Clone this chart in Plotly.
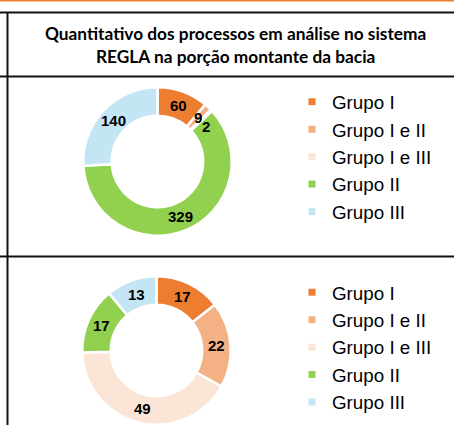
import math
import plotly.graph_objects as go

W, H = 454, 425

# ---- data ----
categories = ["Grupo I", "Grupo I e II", "Grupo I e III", "Grupo II", "Grupo III"]
values_top = [60, 9, 2, 329, 140]
values_bottom = [17, 22, 49, 17, 13]
colors = ["#ED7D31", "#F4B183", "#FBE5D6", "#92D050", "#C3E5F4"]
title_lines = ["Quantitativo dos processos em análise no sistema",
               "REGLA na porção montante da bacia"]


def px_x(x):
    return min(1, max(0, x / W))


def px_y(y):
    return min(1, max(0, 1 - y / H))


R = 74.25
HOLE = 0.616
LINE_W = 2.5
MIN_SEP = 11.5
LABEL_FONT = dict(family="Liberation Sans, Arial", size=15, color="black")
LEGEND_FONT = dict(family="Liberation Sans, Arial", size=18.8, color="black")

donuts = [
    dict(values=values_top, cx=157.5, cy=161.5, legend="legend", lx=292, ly=83),
    dict(values=values_bottom, cx=156.5, cy=350.5, legend="legend2", lx=292, ly=273.5),
]

fig = go.Figure()
annotations = []
legends = {}
for d in donuts:
    cx, cy = d["cx"], d["cy"]
    fig.add_trace(go.Pie(
        labels=categories, values=d["values"], hole=HOLE, sort=False,
        direction="clockwise", rotation=0,
        marker=dict(colors=colors, line=dict(color="white", width=LINE_W)),
        textinfo="none", hoverinfo="label+value", showlegend=False,
        domain=dict(x=[px_x(cx - R), px_x(cx + R)], y=[px_y(cy + R), px_y(cy - R)]),
    ))
    total = sum(d["values"])
    r_lab = R * (1 + HOLE) / 2
    cum = 0
    prev = None
    for v in d["values"]:
        ang = (cum + v / 2) / total * 2 * math.pi
        cum += v
        lx = cx + r_lab * math.sin(ang)
        ly = cy - r_lab * math.cos(ang)
        # nudge a label clockwise along the ring if it collides with the previous one
        while prev is not None and math.hypot(lx - prev[0], ly - prev[1]) < MIN_SEP:
            ang += math.radians(0.5)
            lx = cx + r_lab * math.sin(ang)
            ly = cy - r_lab * math.cos(ang)
        prev = (lx, ly)
        annotations.append(dict(
            x=px_x(lx), y=px_y(ly),
            xref="paper", yref="paper", text="<b>%d</b>" % v, showarrow=False,
            font=LABEL_FONT, xanchor="center", yanchor="middle"))
    for cat, col in zip(categories, colors):
        fig.add_trace(go.Scatter(
            x=[None], y=[None], mode="markers",
            marker=dict(symbol="square", size=7, color=col),
            name=cat, legend=d["legend"], showlegend=True, hoverinfo="skip"))
    legends[d["legend"]] = dict(
        x=px_x(d["lx"]), y=px_y(d["ly"]), xanchor="left", yanchor="top",
        font=LEGEND_FONT, bgcolor="rgba(0,0,0,0)", itemwidth=30,
        tracegroupgap=0, traceorder="normal")

# title
for txt, yc in zip(title_lines, [34, 56]):
    annotations.append(dict(
        x=px_x(235), y=px_y(yc), xref="paper", yref="paper", text="<b>%s</b>" % txt,
        showarrow=False, xanchor="center", yanchor="middle",
        font=dict(family="Lato", size=17.3, color="black")))

# table borders
shapes = []
shapes.append(dict(type="line", xref="paper", yref="paper", x0=0, x1=1,
                   y0=px_y(0.75), y1=px_y(0.75), line=dict(color="#ED7D31", width=1.5)))
for yy in [12.5, 76.5, 256.5]:
    shapes.append(dict(type="line", xref="paper", yref="paper", x0=0, x1=1,
                       y0=px_y(yy), y1=px_y(yy), line=dict(color="#111111", width=2)))
shapes.append(dict(type="line", xref="paper", yref="paper", x0=px_x(7.5), x1=px_x(7.5),
                   y0=px_y(12), y1=0, line=dict(color="#111111", width=2)))

fig.update_layout(
    width=W, height=H, margin=dict(l=0, r=0, t=0, b=0),
    paper_bgcolor="white", plot_bgcolor="white",
    xaxis=dict(visible=False), yaxis=dict(visible=False),
    annotations=annotations, shapes=shapes,
    **legends,
)

fig.write_html("out.html", config={"displayModeBar": False},
               post_script="document.body.style.margin='0';document.body.style.overflow='hidden';")
